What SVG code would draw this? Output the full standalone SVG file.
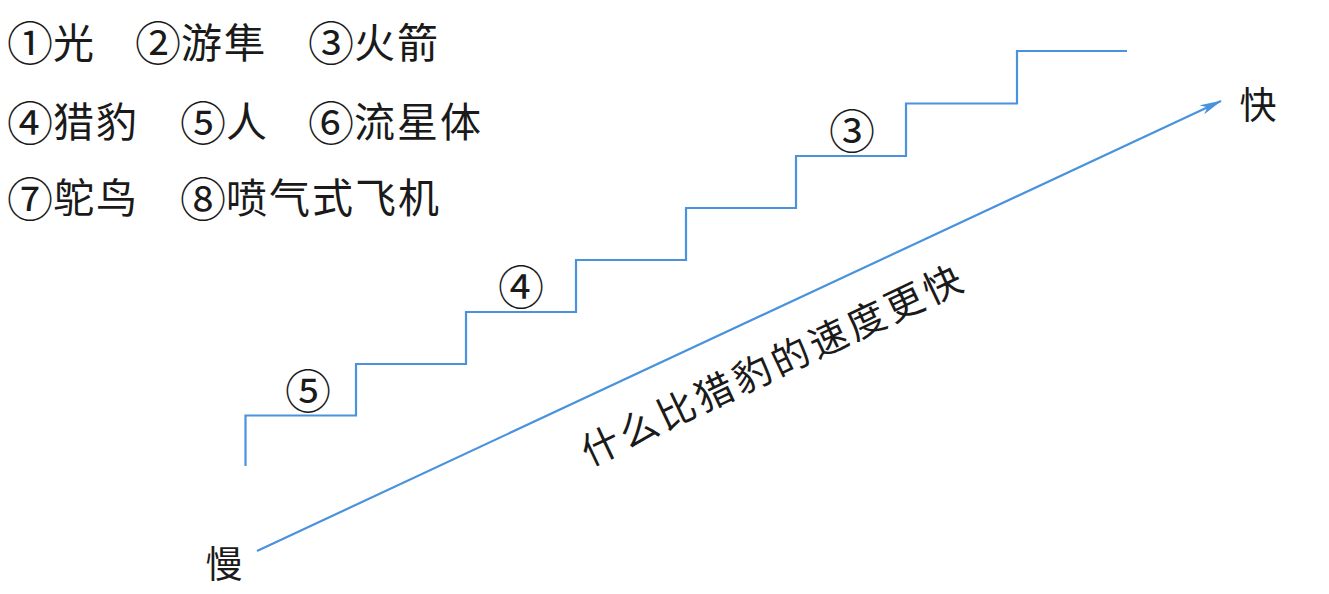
<svg xmlns="http://www.w3.org/2000/svg" width="1329" height="594" viewBox="0 0 1329 594">
<style>
.t{font-family:"Noto Sans CJK SC","Noto Sans",sans-serif;font-size:41px;letter-spacing:2px;fill:#1a1a1a;dominant-baseline:central}
.n{font-family:"Noto Sans CJK SC","Noto Sans",sans-serif;font-size:46px;fill:#1a1a1a;dominant-baseline:central;text-anchor:middle}
.line{fill:none;stroke:#4a93dc;stroke-width:2.2}
</style>
<defs>
<marker id="ah" viewBox="0 0 22 10" refX="21" refY="5" markerWidth="22" markerHeight="10" markerUnits="userSpaceOnUse" orient="auto">
<path d="M0,0 L22,5 L0,10 L6,5 Z" fill="#4a93dc"/>
</marker>
</defs>
<rect width="1329" height="594" fill="#fff"/>
<g id="legend">
<text class="n" x="30" y="40">①</text><text class="t" x="53" y="40">光</text>
<text class="n" x="158" y="40">②</text><text class="t" x="181" y="40">游隼</text>
<text class="n" x="331" y="40">③</text><text class="t" x="354" y="40">火箭</text>
<text class="n" x="30" y="120">④</text><text class="t" x="53" y="119">猎豹</text>
<text class="n" x="203" y="120">⑤</text><text class="t" x="226" y="119">人</text>
<text class="n" x="331" y="120">⑥</text><text class="t" x="354" y="119">流星体</text>
<text class="n" x="30" y="196">⑦</text><text class="t" x="53" y="195">鸵鸟</text>
<text class="n" x="203" y="196">⑧</text><text class="t" x="226" y="195">喷气式飞机</text>
</g>
<g id="stairs">
<path class="line" d="M245.5,466 V415.5 H356 V364 H466 V312 H576 V260 H686 V208 H796 V156 H906 V103.5 H1017 V51 H1127"/>
</g>
<g id="labels">
<text class="n" x="308" y="388">⑤</text>
<text class="n" x="521" y="284">④</text>
<text class="n" x="852" y="128">③</text>
</g>
<g id="connectors">
<line class="line" x1="257" y1="551" x2="1221" y2="101" marker-end="url(#ah)"/>
</g>
<g id="axis-labels">
<text class="t" x="1258" y="103" text-anchor="middle" style="font-size:37px;letter-spacing:0">快</text>
<text class="t" x="224" y="562" text-anchor="middle" style="font-size:37px;letter-spacing:0">慢</text>
<text class="t" x="772" y="362" text-anchor="middle" transform="rotate(-25.3 772 362)" style="font-size:38px;letter-spacing:4px">什么比猎豹的速度更快</text>
</g>
</svg>
